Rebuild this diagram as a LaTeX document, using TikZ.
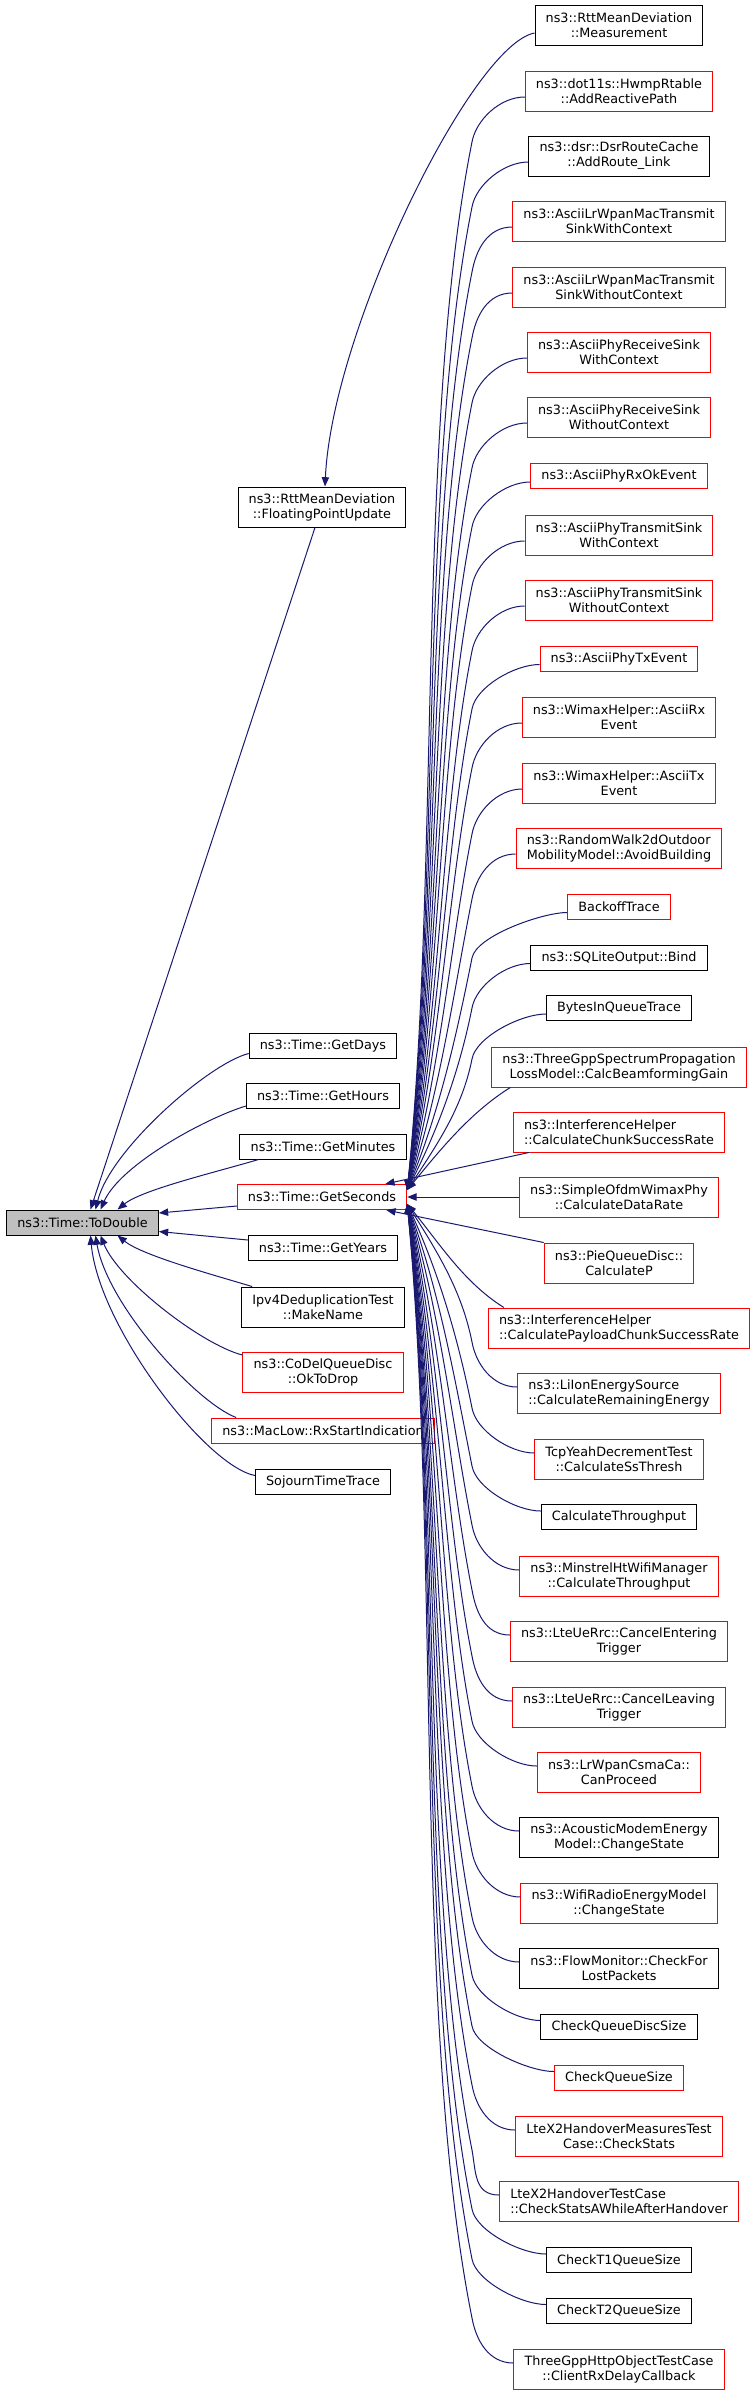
\documentclass[tikz,border=0pt]{standalone}
\usepackage{fontspec}
\setmainfont{DejaVu Sans}
\usetikzlibrary{calc,arrows.meta}
\definecolor{edgeblue}{HTML}{191970}
\definecolor{rootgray}{HTML}{BFBFBF}
\newcommand{\fnsize}{\fontsize{9.6}{11.25}\selectfont}
\tikzset{
	fn/.style={draw=black, fill=white, line width=0.75pt, font=\fnsize, inner xsep=8pt, inner ysep=1pt, minimum height=18.75pt, align=center},
	two/.style={minimum height=30pt},
	fnred/.style={fn, draw=red},
	root/.style={fn, fill=rootgray},
	call/.style={edgeblue, line width=0.75pt, -{Triangle[length=7pt,width=5.5pt]}}
}

\begin{document}
\begin{tikzpicture}[x=0.75pt, y=-0.75pt]
\useasboundingbox (0,0) rectangle (752,2395);

% function of interest
\node [root] (td) at (82.5,1222.5) {ns3::Time::ToDouble};

% direct callers
\node [fn,two] (fpu) at (322,507) {ns3::RttMeanDeviation\\::FloatingPointUpdate};
\node [fn] (days) at (323,1045.5) {ns3::Time::GetDays};
\node [fn] (hours) at (323,1096) {ns3::Time::GetHours};
\node [fn] (minutes) at (323,1146.5) {ns3::Time::GetMinutes};
\node [fnred] (gs) at (322,1197) {ns3::Time::GetSeconds};
\node [fn] (years) at (323,1248) {ns3::Time::GetYears};
\node [fn,two] (dedup) at (323,1307) {Ipv4DeduplicationTest\\::MakeName};
\node [fnred,two] (codel) at (323,1372) {ns3::CoDelQueueDisc\\::OkToDrop};
\node [fnred] (maclow) at (323,1430.5) {ns3::MacLow::RxStartIndication};
\node [fn] (sojourn) at (323,1481.5) {SojournTimeTrace};

% callers of the callers
\node [fn,two] (measure) at (619,25) {ns3::RttMeanDeviation\\::Measurement};
\node [fnred,two] (reactive) at (619,91) {ns3::dot11s::HwmpRtable\\::AddReactivePath};
\node [fn,two] (routelink) at (619,156) {ns3::dsr::DsrRouteCache\\::AddRoute\_Link};
\node [fnred,two] (lrwith) at (619,221) {ns3::AsciiLrWpanMacTransmit\\SinkWithContext};
\node [fnred,two] (lrwithout) at (619,287) {ns3::AsciiLrWpanMacTransmit\\SinkWithoutContext};
\node [fnred,two] (rxwith) at (619,352) {ns3::AsciiPhyReceiveSink\\WithContext};
\node [fnred,two] (rxwithout) at (619,417) {ns3::AsciiPhyReceiveSink\\WithoutContext};
\node [fnred] (rxok) at (619,476) {ns3::AsciiPhyRxOkEvent};
\node [fnred,two] (txwith) at (619,535) {ns3::AsciiPhyTransmitSink\\WithContext};
\node [fnred,two] (txwithout) at (619,600) {ns3::AsciiPhyTransmitSink\\WithoutContext};
\node [fnred] (txevent) at (619,658.5) {ns3::AsciiPhyTxEvent};
\node [fnred,two] (wimaxrx) at (619,717) {ns3::WimaxHelper::AsciiRx\\Event};
\node [fnred,two] (wimaxtx) at (619,783) {ns3::WimaxHelper::AsciiTx\\Event};
\node [fnred,two,align=left] (avoid) at (619,848) {ns3::RandomWalk2dOutdoor\\MobilityModel::AvoidBuilding};
\node [fnred] (backoff) at (619,906.5) {BackoffTrace};
\node [fn] (bind) at (619,957.5) {ns3::SQLiteOutput::Bind};
\node [fn] (bytes) at (619,1008) {BytesInQueueTrace};
\node [fnred,two] (beam) at (619,1067) {ns3::ThreeGppSpectrumPropagation\\LossModel::CalcBeamformingGain};
\node [fnred,two,align=left] (chunk) at (619,1132) {ns3::InterferenceHelper\\::CalculateChunkSuccessRate};
\node [fnred,two] (ofdm) at (619,1197) {ns3::SimpleOfdmWimaxPhy\\::CalculateDataRate};
\node [fnred,two] (pie) at (619,1263) {ns3::PieQueueDisc::\\CalculateP};
\node [fnred,two,align=left] (payload) at (619,1328) {ns3::InterferenceHelper\\::CalculatePayloadChunkSuccessRate};
\node [fnred,two,align=left] (liion) at (619,1393) {ns3::LiIonEnergySource\\::CalculateRemainingEnergy};
\node [fnred,two] (yeah) at (619,1459) {TcpYeahDecrementTest\\::CalculateSsThresh};
\node [fn] (thru) at (619,1517) {CalculateThroughput};
\node [fnred,two] (minstrel) at (619,1576) {ns3::MinstrelHtWifiManager\\::CalculateThroughput};
\node [fnred,two] (entering) at (619,1641) {ns3::LteUeRrc::CancelEntering\\Trigger};
\node [fnred,two] (leaving) at (619,1707) {ns3::LteUeRrc::CancelLeaving\\Trigger};
\node [fnred,two] (csma) at (619,1772) {ns3::LrWpanCsmaCa::\\CanProceed};
\node [fn,two] (acoustic) at (619,1837) {ns3::AcousticModemEnergy\\Model::ChangeState};
\node [fnred,two] (wifiradio) at (619,1903) {ns3::WifiRadioEnergyModel\\::ChangeState};
\node [fn,two] (flowmon) at (619,1968) {ns3::FlowMonitor::CheckFor\\LostPackets};
\node [fn] (qdisc) at (619,2026.5) {CheckQueueDiscSize};
\node [fnred] (qsize) at (619,2077.5) {CheckQueueSize};
\node [fnred,two] (measures) at (619,2136) {LteX2HandoverMeasuresTest\\Case::CheckStats};
\node [fnred,two,align=left] (lteho) at (619,2201) {LteX2HandoverTestCase\\::CheckStatsAWhileAfterHandover};
\node [fn] (t1) at (619,2260) {CheckT1QueueSize};
\node [fn] (t2) at (619,2310.5) {CheckT2QueueSize};
\node [fnred,two] (client) at (619,2369) {ThreeGppHttpObjectTestCase\\::ClientRxDelayCallback};

\coordinate (gsup) at ($(gs.east)+(0,-7)$);
\coordinate (gsdn) at ($(gs.east)+(0,7)$);

% edges into ToDouble
\draw [call] ($(fpu.south)+(-7,0)$) -- ($(td.north)+(8,0)$);
\draw [call] ($(days.west)+(0,8)$) .. controls +(-40,10) and +(15,-60) .. ($(td.north)+(13,0)$);
\draw [call] ($(hours.west)+(0,10)$) .. controls +(-40,12) and +(20,-45) .. ($(td.north)+(18,0)$);
\draw [call] ($(minutes.south west)+(19,0)$) .. controls +(-40,12) and +(25,-20) .. ($(td.north)+(35,0)$);
\draw [call] ($(gs.west)+(0,9)$) -- ($(td.east)+(0,-9.5)$);
\draw [call] ($(years.west)+(0,-8)$) -- ($(td.east)+(0,9)$);
\draw [call] ($(dedup.north west)+(11,0)$) .. controls +(-40,-12) and +(25,20) .. ($(td.south)+(35,0)$);
\draw [call] ($(codel.west)+(0,-17)$) .. controls +(-40,-10) and +(18,45) .. ($(td.south)+(18,0)$);
\draw [call] ($(maclow.north west)+(25,0)$) .. controls +(-40,-15) and +(12,70) .. ($(td.south)+(13,0)$);
\draw [call] ($(sojourn.west)+(0,-6)$) .. controls +(-50,-10) and +(8,90) .. ($(td.south)+(8,0)$);

\draw [call] ($(measure.west)+(0,8)$) .. controls +(-63,12) and +(7,-156) .. ($(fpu.north)+(3,0)$);

% edges into GetSeconds
\foreach \n/\y in {reactive/91, routelink/156, lrwith/221, lrwithout/287, rxwith/352, rxwithout/417, rxok/476, txwith/535, txwithout/600, txevent/658, wimaxrx/717, wimaxtx/783, avoid/848, backoff/907, bind/957, bytes/1008}
	\draw [call] ($(\n.west)+(0,6)$) .. controls +(-25,0) and +(4,-22) .. (472,{\y+51})
		.. controls +({-0.05*(1197-\y)},{0.25*(1197-\y)}) and (440,{1197-0.3*(1197-\y)}) .. (gsup);
\foreach \n/\y in {liion/1393, yeah/1459, thru/1517, minstrel/1576, entering/1641, leaving/1707, csma/1772, acoustic/1837, wifiradio/1903, flowmon/1968, qdisc/2026, qsize/2077, measures/2136, lteho/2201, t1/2260, t2/2310, client/2369}
	\draw [call] ($(\n.west)+(0,-6)$) .. controls +(-25,0) and +(4,22) .. (472,{\y-51})
		.. controls +({-0.05*(\y-1197)},{-0.25*(\y-1197)}) and (440,{1197+0.3*(\y-1197)}) .. (gsdn);
\draw [call] ($(beam.south west)+(19,0)$) .. controls +(-40,25) and (440,1150) .. (gsup);
\draw [call] ($(payload.north west)+(16,0)$) .. controls +(-40,-25) and (440,1244) .. (gsdn);
\draw [call] ($(chunk.south west)+(16,0)$) -- ($(gs.north east)+(-22,0)$);
\draw [call] (ofdm.west) -- (gs.east);
\draw [call] (pie.north west) -- ($(gs.south east)+(-21,0)$);
\end{tikzpicture}
\end{document}
